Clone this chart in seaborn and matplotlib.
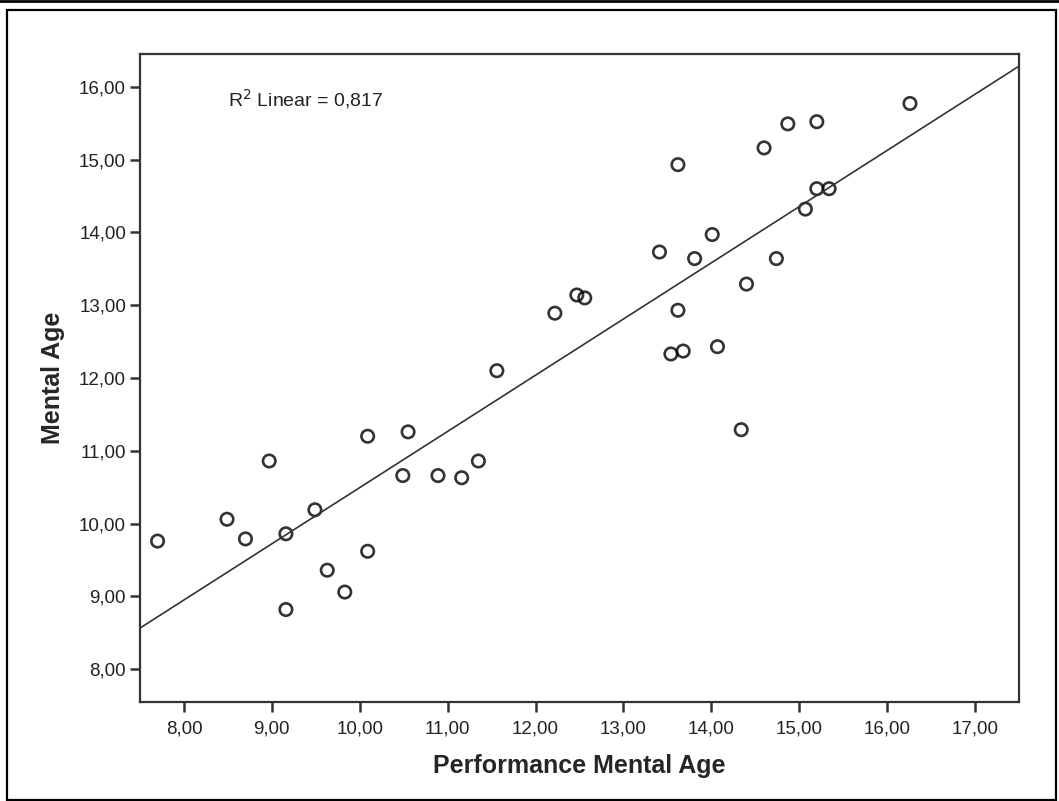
import matplotlib
matplotlib.use("Agg")
import numpy as np
import pandas as pd
import matplotlib.pyplot as plt
import seaborn as sns
from matplotlib.ticker import FuncFormatter, MultipleLocator
from matplotlib.patches import Rectangle
from matplotlib.lines import Line2D

# --- data ---
performance_mental_age = [
    7.70, 8.49, 8.70, 8.97, 9.16, 9.16, 9.49, 9.63, 9.83, 10.09, 10.09,
    10.55, 10.49, 10.89, 11.16, 11.35, 11.56, 12.22, 12.47, 12.56, 13.41,
    13.62, 13.62, 13.54, 13.68, 13.81, 14.01, 14.07, 14.34, 14.40, 14.60,
    14.74, 14.87, 15.07, 15.20, 15.20, 15.34, 16.26,
]
mental_age = [
    9.76, 10.06, 9.79, 10.86, 9.86, 8.82, 10.19, 9.36, 9.06, 11.20, 9.62,
    11.26, 10.66, 10.66, 10.63, 10.86, 12.10, 12.89, 13.14, 13.10, 13.73,
    14.93, 12.93, 12.33, 12.37, 13.64, 13.97, 12.43, 11.29, 13.29, 15.16,
    13.64, 15.49, 14.32, 15.52, 14.60, 14.60, 15.77,
]
r2_label = "R$^2$ Linear = 0,817"

df = pd.DataFrame({"Performance Mental Age": performance_mental_age,
                   "Mental Age": mental_age})

sns.set_style("white")
plt.rcParams['font.family'] = ['Liberation Sans', 'DejaVu Sans']

fig = plt.figure(figsize=(10.59, 8.01), dpi=100)
ax = fig.add_axes([0.1322, 0.1236, 0.8300, 0.8090])

ax.set_xlim(7.5, 17.5)
ax.set_ylim(7.55, 16.45)

sns.regplot(data=df, x="Performance Mental Age", y="Mental Age", ax=ax,
            ci=None, truncate=False,
            scatter_kws=dict(s=80, facecolors='none', edgecolors='black', linewidths=1.9),
            line_kws=dict(color='#333333', lw=1.2))

ax.set_xlim(7.5, 17.5)
ax.set_ylim(7.55, 16.45)

fmt = FuncFormatter(lambda v, p: f"{v:.2f}".replace('.', ','))
ax.xaxis.set_major_locator(MultipleLocator(1))
ax.yaxis.set_major_locator(MultipleLocator(1))
ax.xaxis.set_major_formatter(fmt)
ax.yaxis.set_major_formatter(fmt)

ax.tick_params(axis='both', which='major', direction='out', length=7, width=1.8,
               color='#333333', labelsize=13.5, labelcolor='#222222', pad=3,
               bottom=True, left=True)
ax.tick_params(axis='x', pad=6)
for s in ax.spines.values():
    s.set_color('#333333')
    s.set_linewidth(1.6)

ax.set_xlabel("Performance Mental Age", fontsize=18, fontweight='bold', labelpad=12)
ax.set_ylabel("Mental Age", fontsize=18, fontweight='bold', labelpad=10)

ax.text(0.1, 0.93, r2_label, transform=ax.transAxes, fontsize=14,
        ha='left', va='center', color='#222222')

# outer frame like the exported SPSS chart
fig.patches.append(Rectangle((7 / 1059, 0.001), 1049 / 1059, 1 - 10 / 801 - 0.001,
                             transform=fig.transFigure, fill=False,
                             edgecolor='black', lw=1.6))
fig.lines.append(Line2D([0, 1], [0.999, 0.999], transform=fig.transFigure,
                        color='black', lw=2))

fig.savefig("out.png", dpi=100)
